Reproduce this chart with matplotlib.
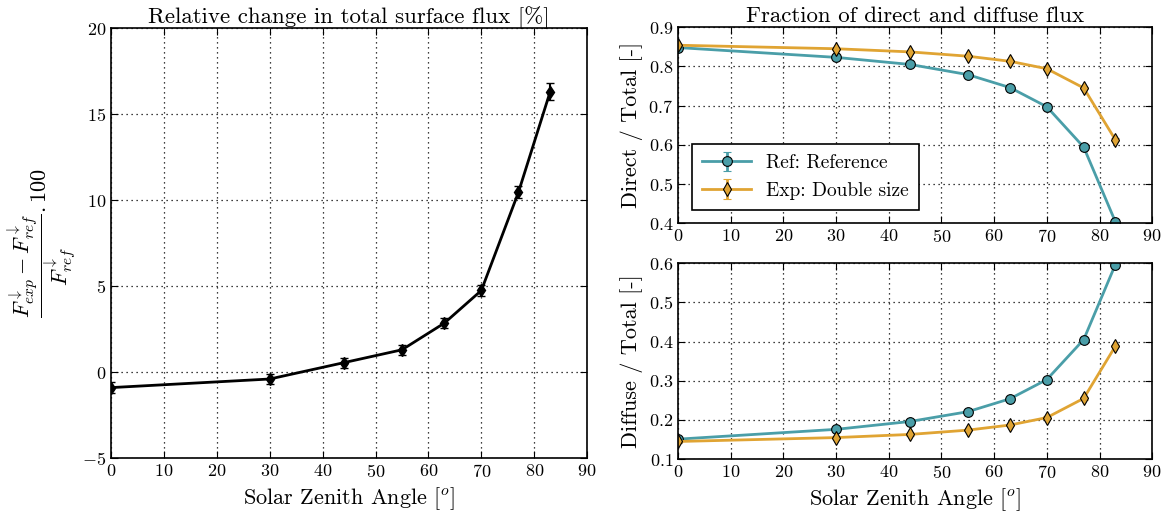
import matplotlib
matplotlib.use("Agg")
import matplotlib.pyplot as plt

plt.rcParams['font.family'] = 'serif'
plt.rcParams['font.serif'] = ['cmr10']
plt.rcParams['mathtext.fontset'] = 'cm'
plt.rcParams['axes.formatter.use_mathtext'] = True
plt.rcParams['axes.unicode_minus'] = True

sza = [0, 30, 44, 55, 63, 70, 77, 83]
rel_change = [-0.9, -0.4, 0.55, 1.3, 2.85, 4.75, 10.45, 16.3]
rel_err = [0.3, 0.3, 0.3, 0.3, 0.3, 0.3, 0.35, 0.5]
direct_ref = [0.848, 0.823, 0.805, 0.779, 0.746, 0.697, 0.594, 0.404]
direct_exp = [0.854, 0.845, 0.837, 0.826, 0.813, 0.794, 0.745, 0.613]
diffuse_ref = [0.151, 0.176, 0.196, 0.221, 0.254, 0.303, 0.405, 0.596]
diffuse_exp = [0.145, 0.155, 0.163, 0.174, 0.187, 0.206, 0.255, 0.388]
small_err = [0.003] * 8

teal = '#4a9ea8'
orange = '#e0a433'

fig = plt.figure(figsize=(11.65, 5.13), dpi=100)
ax1 = fig.add_axes([0.0953, 0.107, 0.4087, 0.838])
ax2 = fig.add_axes([0.582, 0.565, 0.407, 0.382])
ax3 = fig.add_axes([0.582, 0.105, 0.407, 0.382])

def style(ax):
    ax.grid(True, color='black', linestyle=(0, (1, 3)), linewidth=0.9)
    ax.tick_params(direction='in', top=True, right=True, labelsize=13, length=5)
    ax.set_xlim(0, 90)
    ax.set_xticks(range(0, 91, 10))
    for s in ax.spines.values():
        s.set_linewidth(1.2)

ax1.errorbar(sza, rel_change, yerr=rel_err, color='black', lw=2, marker='d',
             ms=6, capsize=3, elinewidth=1.5)
style(ax1)
ax1.set_ylim(-5, 20)
ax1.set_yticks(range(-5, 21, 5))
ax1.set_title('Relative change in total surface flux [%]', fontsize=16.5, pad=4)
ax1.set_xlabel(r'Solar Zenith Angle [$^o$]', fontsize=16)
ax1.set_ylabel(r'$\dfrac{F_{exp}^{\downarrow}-F_{ref}^{\downarrow}}{F_{ref}^{\downarrow}}.100$',
               fontsize=16)
ax1.yaxis.set_label_coords(-0.07, 0.5)

ax2.errorbar(sza, direct_ref, yerr=small_err, color=teal, lw=2, marker='o', ms=7,
             mfc=teal, mec='black', mew=0.8, capsize=3, label='Ref: Reference')
ax2.errorbar(sza, direct_exp, yerr=small_err, color=orange, lw=2, marker='d', ms=7,
             mfc=orange, mec='black', mew=0.8, capsize=3, label='Exp: Double size')
style(ax2)
ax2.set_ylim(0.4, 0.9)
ax2.set_yticks([0.4, 0.5, 0.6, 0.7, 0.8, 0.9])
ax2.set_title('Fraction of direct and diffuse flux', fontsize=16.5, pad=4)
ax2.set_ylabel('Direct / Total [-]', fontsize=16)
leg = ax2.legend(loc='lower left', fontsize=14, fancybox=False, edgecolor='black',
                 framealpha=1, borderpad=0.5, handlelength=2.5, bbox_to_anchor=(0.01, 0.02))
leg.get_frame().set_linewidth(1.2)

ax3.errorbar(sza, diffuse_ref, yerr=small_err, color=teal, lw=2, marker='o', ms=7,
             mfc=teal, mec='black', mew=0.8, capsize=3)
ax3.errorbar(sza, diffuse_exp, yerr=small_err, color=orange, lw=2, marker='d', ms=7,
             mfc=orange, mec='black', mew=0.8, capsize=3)
style(ax3)
ax3.set_ylim(0.1, 0.6)
ax3.set_yticks([0.1, 0.2, 0.3, 0.4, 0.5, 0.6])
ax3.set_ylabel('Diffuse / Total [-]', fontsize=16)
ax3.set_xlabel(r'Solar Zenith Angle [$^o$]', fontsize=16)

for ax in (ax1, ax2, ax3):
    for lab in ax.get_xticklabels() + ax.get_yticklabels():
        lab.set_fontfamily('cmr10')

fig.savefig('out.png', dpi=100)
